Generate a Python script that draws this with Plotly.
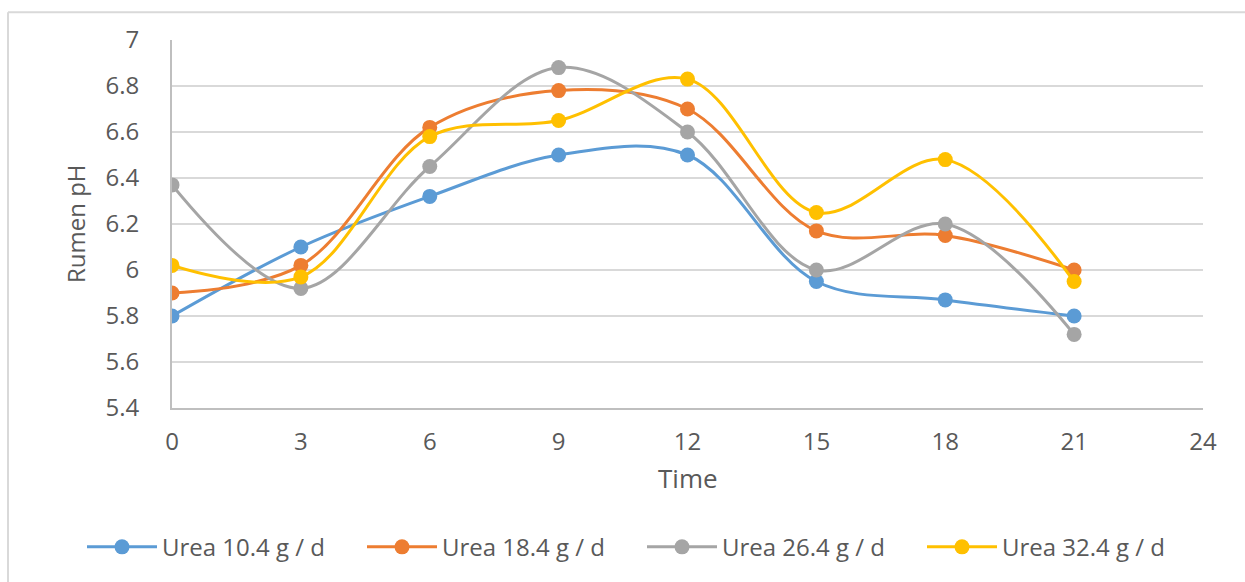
import plotly.graph_objects as go

# Sampling times (h) and rumen pH for each urea dose
time = [0, 3, 6, 9, 12, 15, 18, 21]
urea_10_4 = [5.80, 6.10, 6.32, 6.50, 6.50, 5.95, 5.87, 5.80]
urea_18_4 = [5.90, 6.02, 6.62, 6.78, 6.70, 6.17, 6.15, 6.00]
urea_26_4 = [6.37, 5.92, 6.45, 6.88, 6.60, 6.00, 6.20, 5.72]
urea_32_4 = [6.02, 5.97, 6.58, 6.65, 6.83, 6.25, 6.48, 5.95]

series_names = ["Urea 10.4 g / d", "Urea 18.4 g / d", "Urea 26.4 g / d", "Urea 32.4 g / d"]
series_values = [urea_10_4, urea_18_4, urea_26_4, urea_32_4]
colors = ["#5B9BD5", "#ED7D31", "#A5A5A5", "#FFC000"]

x_ticks = [0, 3, 6, 9, 12, 15, 18, 21, 24]
y_ticks = [5.4, 5.6, 5.8, 6.0, 6.2, 6.4, 6.6, 6.8, 7.0]
y_tick_text = ["5.4", "5.6", "5.8", "6", "6.2", "6.4", "6.6", "6.8", "7"]

W, H = 1245, 582
ML, MR, MT, MB = 172, 42, 40, 172
pw, ph = W - ML - MR, H - MT - MB

fig = go.Figure()
for name, vals, col in zip(series_names, series_values, colors):
    fig.add_trace(go.Scatter(
        x=time, y=vals, name=name, mode="lines+markers",
        line=dict(color=col, width=3, shape="spline", smoothing=1.0),
        marker=dict(color=col, size=15),
    ))

grey_text = "#595959"
font_family = "Open Sans"

def px_x(px):
    return (px - ML) / pw

def px_y(py):
    return 1 - (py - MT) / ph

# outer chart frame (left and top edges)
frame = dict(type="line", xref="paper", yref="paper",
             line=dict(color="#D9D9D9", width=2), layer="below")
shapes = [
    dict(frame, x0=px_x(8), y0=px_y(12), x1=px_x(W + 5), y1=px_y(12)),
    dict(frame, x0=px_x(8), y0=px_y(12), x1=px_x(8), y1=px_y(H + 5)),
]

# axis titles placed as annotations for exact positioning
annotations = [
    dict(text="Time", xref="paper", yref="paper", x=0.5, y=px_y(480),
         xanchor="center", yanchor="middle", showarrow=False,
         font=dict(size=26, color=grey_text, family=font_family)),
    dict(text="Rumen pH", xref="paper", yref="paper", x=px_x(75), y=0.5,
         xanchor="center", yanchor="middle", showarrow=False, textangle=-90,
         font=dict(size=24, color=grey_text, family=font_family)),
]

fig.update_layout(
    width=W, height=H,
    margin=dict(l=ML, r=MR, t=MT, b=MB, pad=0),
    paper_bgcolor="white", plot_bgcolor="white",
    font=dict(family=font_family, color=grey_text, size=20),
    showlegend=True,
    legend=dict(
        orientation="h", x=px_x(82), xanchor="left",
        y=px_y(550), yanchor="middle",
        font=dict(size=24, color=grey_text, family=font_family),
        itemwidth=70, tracegroupgap=0,
        entrywidth=195, entrywidthmode="pixels",
    ),
    shapes=shapes,
    annotations=annotations,
    xaxis=dict(
        range=[0, 24], tickvals=x_ticks, ticktext=[str(v) for v in x_ticks],
        showgrid=False, zeroline=False,
        showline=True, linecolor="#BFBFBF", linewidth=2,
        ticks="outside", ticklen=11, tickcolor="rgba(0,0,0,0)",
        tickfont=dict(size=24, color=grey_text),
    ),
    yaxis=dict(
        range=[5.4, 7.0], tickvals=y_ticks, ticktext=y_tick_text,
        showgrid=True, gridcolor="#D9D9D9", gridwidth=2,
        zeroline=False, showline=True, linecolor="#BFBFBF", linewidth=2,
        ticks="outside", ticklen=26, tickcolor="rgba(0,0,0,0)",
        tickfont=dict(size=24, color=grey_text),
    ),
)

fig.write_html("out.html")
